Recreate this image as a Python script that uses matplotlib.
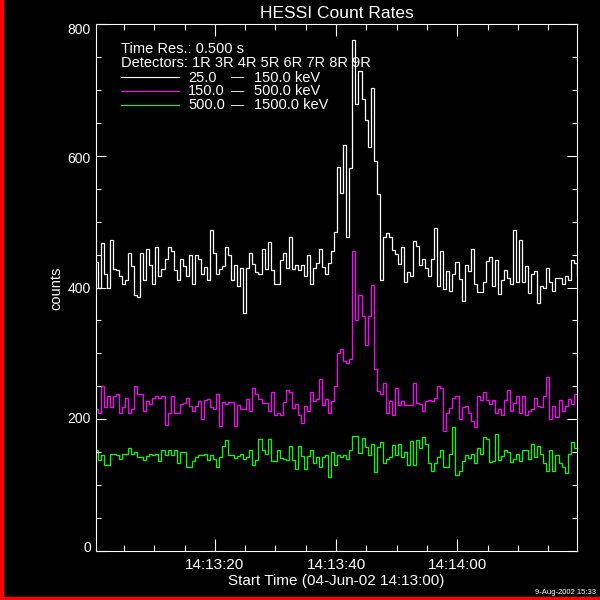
import numpy as np
import matplotlib
matplotlib.use('Agg')
import matplotlib.pyplot as plt
from matplotlib.ticker import FixedLocator, MultipleLocator
from matplotlib.patches import Rectangle
from matplotlib.lines import Line2D
from matplotlib.transforms import ScaledTranslation

# counts per 0.5 s bin
band_lo = [438, 400, 467, 421, 400, 472, 428, 426, 417, 406, 412, 453, 432, 389, 386, 453, 412, 458, 434, 406,
           462, 417, 428, 444, 462, 456, 426, 412,
           444, 432, 417, 449, 405, 449, 443, 421, 431, 412, 487, 452, 421, 428, 432, 461, 449, 411, 434, 402,
           429, 362, 429, 453, 435, 423,
           421, 458, 428, 469, 426, 406, 405, 441, 452, 429, 476, 428, 434, 426, 434, 417, 449, 405, 429, 437,
           459, 431, 420, 437, 455, 484,
           583, 544, 616, 477, 582, 775, 679, 729, 686, 655, 614, 703, 592, 542, 411, 477, 483, 476, 457, 451,
           435, 462, 408, 423, 417, 471, 463,
           434, 444, 429, 417, 444, 491, 403, 456, 397, 425, 394, 421, 438, 413, 380, 434, 425, 459, 405, 393,
           393, 408, 440, 447, 402, 441, 390,
           411, 426, 414, 405, 487, 409, 472, 409, 432, 391, 421, 425, 376, 403, 399, 429, 409, 394, 414, 415,
           406, 417, 412, 441, 437, 417]
band_mid = [216, 210, 251, 219, 236, 219, 235, 239, 209, 219, 233, 209, 216, 250, 239, 238, 213, 227, 223, 233,
            235, 233, 235, 192, 210, 236, 210, 210,
            223, 224, 233, 220, 213, 220, 227, 200, 229, 230, 218, 216, 238, 189, 226, 223, 226, 226, 189, 221,
            215, 216, 230, 213, 248, 238,
            230, 224, 224, 213, 242, 206, 210, 206, 226, 244, 242, 217, 223, 207, 195, 220, 213, 241, 227, 230,
            261, 221, 230, 209, 227, 251,
            301, 307, 289, 286, 292, 456, 350, 388, 357, 313, 357, 404, 277, 243, 239, 255, 210, 227, 206, 248,
            222, 228, 222, 222, 222, 255, 225,
            223, 213, 227, 229, 227, 233, 251, 248, 182, 210, 217, 233, 236, 201, 218, 220, 210, 198, 188, 235,
            229, 242, 229, 223, 229, 209, 215,
            206, 229, 244, 212, 224, 235, 209, 236, 207, 213, 215, 233, 220, 218, 235, 264, 201, 220, 204, 229,
            212, 220, 230, 223, 238, 238]
band_hi = [153, 138, 145, 130, 131, 148, 148, 145, 139, 147, 148, 156, 148, 151, 142, 142, 138, 144, 147, 145,
           148, 136, 154, 145, 154, 145, 153, 133,
           150, 151, 127, 127, 136, 142, 145, 145, 148, 138, 145, 139, 127, 142, 160, 168, 145, 145, 141, 144,
           147, 139, 142, 154, 131, 138,
           170, 154, 148, 170, 136, 136, 154, 141, 139, 138, 160, 138, 124, 160, 144, 125, 144, 153, 133, 142,
           128, 142, 145, 113, 151, 130,
           146, 143, 145, 139, 154, 175, 174, 149, 171, 158, 146, 163, 120, 158, 165, 134, 140, 142, 161, 145,
           162, 143, 151, 130, 167, 130, 169,
           157, 173, 163, 133, 122, 133, 142, 153, 127, 127, 148, 188, 115, 121, 136, 145, 141, 147, 133, 157,
           148, 173, 170, 135, 136, 177, 138,
           144, 154, 151, 135, 139, 148, 136, 154, 154, 139, 163, 142, 160, 148, 133, 122, 153, 122, 145, 133,
           127, 119, 147, 165, 157, 162]

band_lows = ['25.0', '150.0', '500.0']
band_highs = ['150.0 keV', '500.0 keV', '1500.0 keV']
band_colors = ['white', '#ff00ff', '#00ff00']
tick_secs = [20, 40, 60]
tick_labels = ['14:13:20', '14:13:40', '14:14:00']
ytick_vals = [0, 200, 400, 600, 800]

W = H = 600.0


def fx(x):
    return x / W


def fy(y):
    return 1 - y / H


def ftext(fig, x, y, s, **kw):
    kw.setdefault('color', 'white')
    kw.setdefault('va', 'baseline')
    fig.text(fx(x), fy(y), s, **kw)


if __name__ == '__main__':
    plt.rcParams['font.family'] = ['Liberation Sans', 'DejaVu Sans']
    fig = plt.figure(figsize=(6, 6), dpi=100, facecolor='black')
    ax = fig.add_axes([fx(96.4), fy(551), 480.3 / W, 527 / H], facecolor='black')

    edges = 0.2 + 0.5 * np.arange(len(band_lo) + 1)  # seconds after 14:13:00
    for vals, c in zip([band_lo, band_mid, band_hi], band_colors):
        ax.stairs(vals, edges, baseline=None, color=c, lw=0.9)

    ax.set_xlim(0.46, 79.7)
    ax.set_ylim(0, 800)
    ax.xaxis.set_major_locator(FixedLocator(tick_secs))
    ax.set_xticklabels(tick_labels)
    ax.xaxis.set_minor_locator(MultipleLocator(5))
    ax.yaxis.set_major_locator(FixedLocator(ytick_vals))
    ax.set_yticklabels([str(v) for v in ytick_vals])
    ax.yaxis.set_minor_locator(MultipleLocator(50))
    ax.tick_params(which='both', direction='in', colors='white', top=True, right=True, width=0.8)
    ax.tick_params(axis='x', which='major', length=8.4, pad=4.7, labelsize=11)
    ax.tick_params(axis='x', which='minor', length=4.1)
    ax.tick_params(axis='y', which='major', length=7.2, pad=3.9, labelsize=10)
    ax.tick_params(axis='y', which='minor', length=3.8)
    for sp in ax.spines.values():
        sp.set_color('white')
        sp.set_linewidth(0.8)

    # IDL pulls the end labels inward a little
    for v, lab in zip(ytick_vals, ax.get_yticklabels()):
        shift = -0.04 * (v - 400) / 400
        lab.set_transform(lab.get_transform() + ScaledTranslation(0, shift, fig.dpi_scale_trans))

    ftext(fig, 336.5, 17.5, 'HESSI Count Rates', ha='center', fontsize=12.5)
    ftext(fig, 336.5, 585.5, 'Start Time (04-Jun-02 14:13:00)', ha='center', fontsize=11)
    ftext(fig, 596, 594, '9-Aug-2002 15:33', ha='right', fontsize=5.5)
    fig.text(fx(56), fy(288), 'counts', rotation=90, ha='center', va='center', color='white', fontsize=10.5)

    # legend block, IDL style
    ftext(fig, 121, 52.7, 'Time Res.: 0.500 s', fontsize=10.5)
    ftext(fig, 121, 66.7, 'Detectors: 1R 3R 4R 5R 6R 7R 8R 9R', fontsize=10.5)
    for i, (a, b, c) in enumerate(zip(band_lows, band_highs, band_colors)):
        base = 81.5 + i * 13.8
        fig.add_artist(Line2D([fx(121), fx(179)], [fy(base - 4.6)] * 2, color=c, lw=0.8,
                              transform=fig.transFigure))
        ftext(fig, 188, base, a, fontsize=10.5)
        ftext(fig, 238, base, '\u2014', ha='center', fontsize=9.5)
        ftext(fig, 254, base, b, fontsize=10.5)

    fig.add_artist(Rectangle((0, 0), 3 / W, 1, transform=fig.transFigure, color='red'))
    fig.add_artist(Rectangle((0, 0), 1, 3 / H, transform=fig.transFigure, color='red'))

    fig.savefig('out.png', dpi=100, facecolor='black')
